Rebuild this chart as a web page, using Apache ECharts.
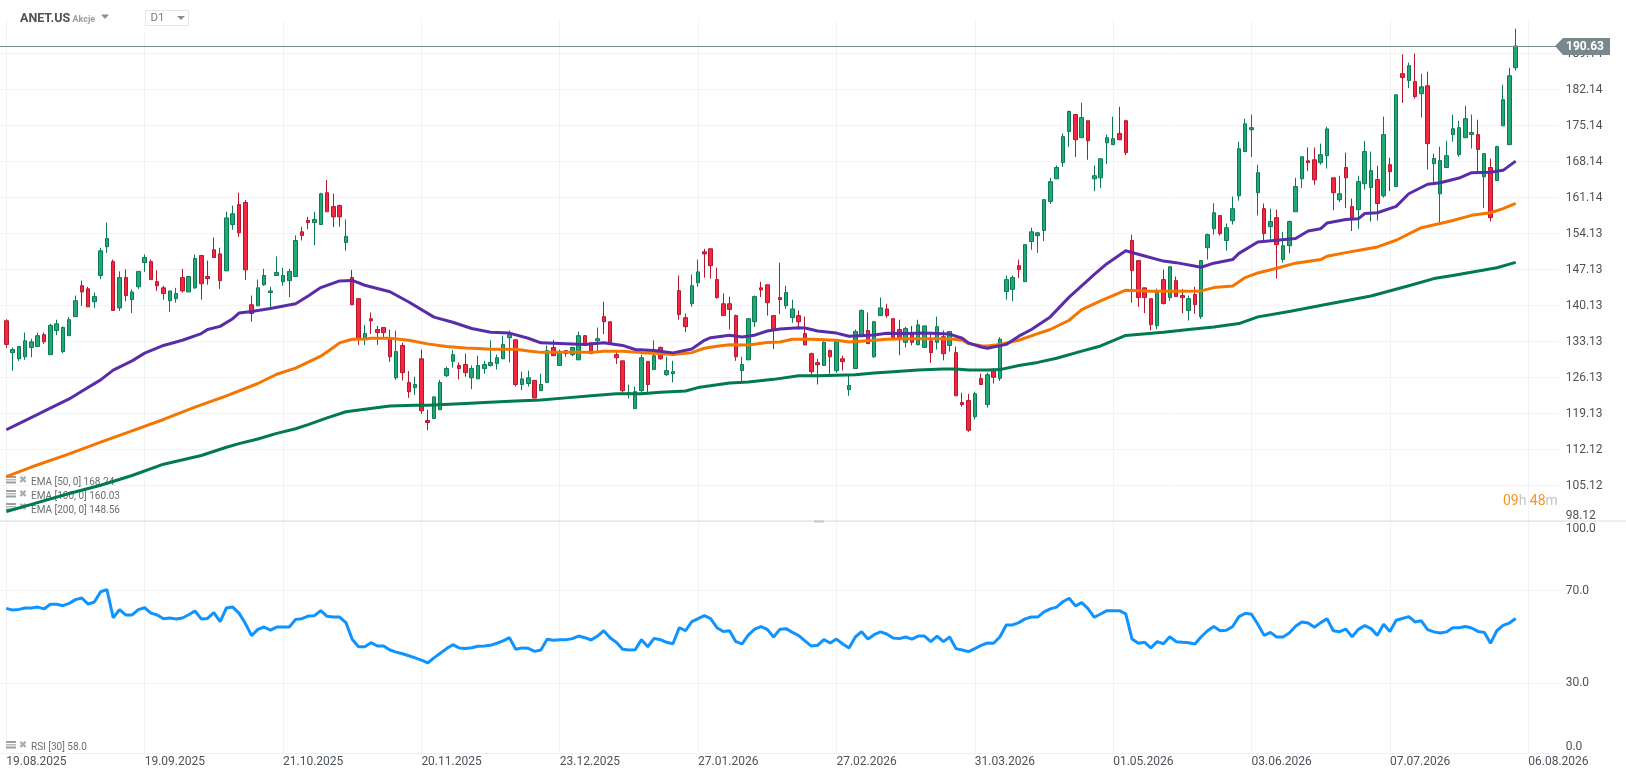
<!DOCTYPE html>
<html><head><meta charset="utf-8">
<style>html,body{margin:0;padding:0;background:#fff}#c{width:1626px;height:779px}</style>
<script src="https://cdn.jsdelivr.net/npm/echarts@6/dist/echarts.min.js"></script>
</head><body><div id="c"></div>
<script>
const xTickLabels = ['19.08.2025','19.09.2025','21.10.2025','20.11.2025','23.12.2025','27.01.2026','27.02.2026','31.03.2026','01.05.2026','03.06.2026','07.07.2026','06.08.2026'];
const priceTickLabels = ['98.12','105.12','112.12','119.13','126.13','133.13','140.13','147.13','154.13','161.14','168.14','175.14','182.14','189.14'];
const rsiTicks = [0,30,70,100];
const lastPrice = 190.63;
const opens = [
137.2,131.0,129.8,130.2,132.0,132.2,134.5,130.6,135.3,131.2,
134.3,138.0,144.0,143.4,140.9,146.0,151.6,148.7,139.7,145.6,
141.3,143.8,148.5,148.7,144.8,143.6,141.1,141.5,145.6,142.8,
143.6,149.9,145.8,151.0,150.2,146.9,155.9,159.8,160.2,140.3,
140.1,144.2,142.7,146.0,144.8,145.0,145.8,154.5,156.7,156.3,
155.9,162.1,159.4,159.6,152.4,145.6,141.5,133.7,137.6,135.5,
135.9,133.7,126.1,132.4,125.2,124.2,129.8,117.8,118.2,119.9,
126.5,129.3,128.5,128.7,126.1,125.9,127.9,128.5,128.9,129.8,
133.9,133.5,124.8,125.0,125.6,123.6,125.2,132.0,128.5,131.4,
130.6,129.6,134.3,132.9,133.3,138.0,137.0,130.6,129.4,123.0,
120.1,123.6,129.3,127.7,132.0,126.7,126.9,143.05,137.8,140.5,
144.6,150.6,151.2,145.2,140.5,140.5,138.2,127.5,129.6,137.0,
143.6,144.2,138.2,141.7,140.1,137.8,138.2,134.7,130.8,129.05,
128.5,131.4,127.5,129.8,123.8,127.9,134.1,135.3,130.2,138.2,
139.5,137.6,135.5,133.0,134.7,132.55,132.0,133.3,133.0,134.1,
132.4,131.0,121.3,121.7,118.55,125.95,120.9,127.4,126.0,142.9,
143.3,147.9,144.8,152.6,153.75,154.75,160.4,164.8,167.95,174.0,
177.3,172.8,176.1,164.8,165.0,171.8,171.45,173.6,176.1,152.8,
148.9,143.6,141.5,136.25,145.2,141.7,145.0,142.1,139.2,142.3,
138.0,151.4,155.1,157.65,152.8,156.65,161.5,170.1,174.35,162.1,
159.0,155.5,157.25,149.1,151.8,158.4,164.8,168.3,168.5,167.95,
169.3,165.0,160.75,167.0,159.4,158.8,163.85,163.1,164.65,161.5,
167.55,163.3,185.25,183.9,183.7,181.35,182.9,167.75,161.9,167.0,
173.4,169.5,172.8,173.4,173.4,165.2,167.0,164.45,175.1,171.45,
186.4];
const closes = [
132.6,131.6,132.2,133.3,133.1,134.3,133.1,136.3,136.6,135.9,
137.4,141.1,142.8,139.9,141.9,150.8,153.2,139.2,145.6,142.1,
142.8,146.8,149.5,145.2,144.0,142.5,143.0,142.5,143.0,145.8,
149.3,144.4,145.4,149.5,145.0,157.2,158.0,154.3,147.1,138.6,
143.6,146.0,143.0,146.6,146.0,146.8,152.8,153.8,156.3,156.9,
161.9,158.4,157.4,157.4,153.6,140.3,133.7,134.7,137.2,134.9,
134.9,130.2,131.2,127.1,123.4,124.8,119.7,117.4,122.4,125.2,
127.9,130.6,127.9,127.1,127.9,128.5,128.7,129.1,130.0,132.6,
134.5,124.8,125.9,126.1,122.2,124.8,131.4,130.4,131.2,130.8,
132.0,134.3,132.4,130.8,133.7,137.0,132.6,130.0,123.6,123.2,
123.4,130.0,124.8,130.4,129.8,127.5,127.3,138.4,136.05,144.0,
146.7,150.2,147.9,141.7,138.2,139.4,130.2,128.7,137.6,141.9,
143.2,140.7,135.3,141.3,142.7,139.5,137.0,132.5,127.3,128.65,
133.0,130.2,133.3,129.25,124.6,135.1,139.2,132.75,137.0,139.7,
138.2,133.7,133.7,135.7,133.0,136.4,136.2,131.0,136.05,130.8,
135.1,122.6,120.9,115.9,123.0,124.8,126.7,126.2,133.6,145.2,
145.6,147.15,152.0,154.5,154.3,160.75,164.25,167.0,173.0,177.9,
172.4,176.7,172.2,165.4,168.7,172.8,172.6,172.4,169.9,146.95,
141.7,141.7,136.45,142.7,140.55,147.7,141.9,141.7,141.5,140.35,
148.9,153.95,158.2,154.15,155.3,159.0,170.65,175.5,174.75,166.0,
154.15,156.5,152.0,151.8,156.5,163.3,169.1,167.95,164.6,169.5,
174.5,162.1,161.9,165.0,157.25,164.25,170.1,166.4,160.0,173.4,
166.2,181.15,184.5,186.8,180.8,182.7,171.65,168.75,168.35,169.3,
174.55,174.75,176.5,173.8,170.5,169.7,157.25,171.05,180.2,184.85,
190.63];
const lows = [
131.9,127.5,129.4,129.6,130.1,132.1,132.7,130.6,134.4,130.9,
134.3,138.0,140.1,139.9,139.7,145.3,150.4,139.2,139.1,141.0,
138.7,143.4,146.7,145.2,143.0,141.3,138.9,140.7,142.7,142.8,
143.4,141.3,144.2,149.5,143.4,146.9,154.9,153.5,145.1,137.0,
140.1,144.0,139.7,146.0,144.0,141.8,145.8,152.8,155.0,151.9,
155.9,158.4,155.4,155.5,150.8,140.3,132.5,132.5,134.6,132.5,
133.9,129.2,125.7,125.6,122.2,122.8,119.1,115.9,118.2,119.9,
126.3,128.1,125.8,126.3,123.9,125.9,126.9,128.3,127.7,129.8,
129.1,124.4,123.7,124.4,122.1,123.6,125.2,130.4,128.5,130.2,
130.3,129.6,132.4,130.8,131.1,134.6,132.6,128.8,123.0,122.1,
120.1,123.0,123.2,127.7,129.6,126.5,125.2,137.4,135.0,139.9,
143.8,145.6,145.4,141.5,138.2,135.5,129.4,125.4,129.6,136.0,
141.8,138.2,131.7,138.5,139.5,136.8,135.5,132.5,126.7,124.8,
128.5,126.9,127.1,127.5,122.6,127.9,134.1,132.75,130.0,138.2,
137.8,133.7,130.5,132.0,132.4,132.4,132.0,129.0,131.6,129.5,
131.2,122.6,120.5,115.6,118.0,124.8,120.3,125.0,125.5,141.3,
141.0,145.5,144.8,151.0,150.4,152.7,159.9,164.8,167.1,171.0,
169.05,172.8,168.5,162.4,163.0,167.7,171.45,172.4,169.4,140.7,
139.9,138.7,135.35,135.55,140.35,141.05,141.9,138.7,137.25,138.55,
137.55,149.1,153.95,153.8,150.8,155.9,160.55,170.1,169.05,157.65,
152.6,153.0,145.4,148.5,150.3,158.4,163.0,166.3,163.65,167.55,
166.8,158.7,160.3,159.1,154.65,155.1,162.7,156.5,156.7,161.15,
162.4,163.3,179.55,182.45,180.4,176.7,166.6,164.05,156.3,167.0,
172.0,169.1,172.8,170.7,165.8,159.1,156.5,164.45,175.1,171.45,
185.85];
const highs = [
137.5,132.0,132.2,134.9,133.7,134.9,134.9,136.6,137.4,136.1,
137.9,142.1,145.0,143.8,142.7,151.4,156.3,149.1,146.8,147.2,
143.3,146.8,150.1,149.1,147.0,144.0,143.0,143.6,147.3,145.8,
150.1,149.9,148.9,153.4,151.4,158.4,159.6,162.1,160.7,142.1,
145.2,147.3,143.8,149.7,147.5,147.3,153.8,155.5,157.4,158.4,
162.1,164.6,161.9,159.8,156.9,147.1,141.5,136.4,138.8,136.2,
135.9,135.5,135.3,132.9,127.4,126.3,131.6,119.9,122.4,125.7,
128.3,131.5,129.1,130.8,128.5,130.4,129.4,133.4,130.6,134.3,
135.3,133.5,127.3,127.5,125.6,126.9,132.4,133.5,131.6,131.4,
132.0,135.1,134.3,132.9,135.9,140.9,137.0,131.1,129.4,124.8,
124.4,130.6,129.3,133.4,132.2,130.2,129.4,146.0,138.6,146.2,
149.1,151.2,151.2,147.5,142.5,141.9,138.4,130.2,137.6,142.1,
144.8,144.2,138.2,148.5,144.0,141.3,139.2,138.0,131.0,129.8,
133.2,131.6,133.3,130.4,126.5,135.5,139.4,138.8,137.2,141.7,
140.5,137.6,137.4,136.05,136.2,137.4,136.2,134.9,138.0,135.3,
135.1,132.2,123.2,123.0,123.4,126.9,127.1,128.0,134.0,146.0,
146.0,149.1,152.0,155.3,154.5,160.75,165.0,167.4,173.6,178.05,
177.3,179.6,176.1,167.4,168.7,173.4,176.9,178.8,176.3,153.95,
148.9,143.6,141.5,143.45,147.15,147.7,145.8,143.4,142.1,143.8,
148.9,154.15,160.05,157.65,156.1,161.35,172.0,176.5,177.3,167.55,
160.0,159.0,158.8,154.5,156.7,165.0,169.1,170.9,170.9,171.65,
174.95,165.0,165.4,169.9,160.95,165.4,172.2,170.1,167.35,176.9,
168.9,181.15,189.0,187.4,189.15,185.25,185.65,169.7,171.05,172.2,
177.3,176.1,179.0,177.3,176.3,169.7,168.75,171.25,183.1,186.4,
194.0];
const ema50Bars = [0,2,5,7,10,12,15,17,20,22,25,28,31,32,34,36,37,39,42,46,48,50,53,55,57,61,64,68,71,74,77,80,83,85,89,92,95,98,100,103,106,109,111,112,115,117,119,121,123,126,127,129,132,134,138,140,143,146,150,152,153,155,156,159,161,163,166,169,172,173,175,178,181,184,186,190,192,195,196,199,202,205,207,209,210,213,215,216,218,221,223,226,228,231,233,236,238,240];
const ema50Values = [116.0,117.2,119.0,120.2,122.0,123.5,125.7,127.6,129.4,130.9,132.4,133.4,134.7,135.5,136.1,137.6,138.7,139.0,139.6,140.5,142.0,143.65,144.95,145.05,144.1,142.85,140.85,137.9,136.9,135.7,134.95,134.8,133.8,132.9,132.75,132.6,132.9,132.4,131.6,131.4,130.95,131.7,133.4,133.9,134.4,134.05,134.4,135.2,135.6,135.85,135.8,135.2,134.8,134.2,134.45,134.75,134.7,134.8,134.6,133.8,132.9,132.1,131.85,132.6,134.2,135.5,137.95,141.8,145.1,146.2,148.3,150.8,149.8,148.8,148.5,147.6,148.4,149.1,150.3,152.5,152.85,153.2,154.65,155.1,156.2,156.9,157.05,158.05,158.2,159.45,161.9,163.75,164.05,164.95,166.0,166.1,166.45,168.24];
const ema100Bars = [0,4,10,15,20,25,30,35,40,43,46,50,52,53,55,57,58,61,64,67,70,73,75,77,81,83,85,89,93,95,98,101,104,106,109,111,113,115,118,121,123,125,128,132,134,137,140,143,146,150,152,153,155,156,158,161,164,166,169,171,174,178,182,186,190,192,195,197,199,202,205,209,210,213,216,218,221,225,228,230,233,236,238,240];
const ema100Values = [106.9,108.75,111.3,113.6,115.8,118.0,120.4,122.6,125.0,126.8,128.0,130.3,132.0,132.9,133.6,133.65,133.8,133.8,133.4,132.7,132.2,131.9,131.8,131.65,131.65,131.3,131.05,131.05,131.05,131.25,131.25,131.0,130.85,130.65,131.0,131.85,132.25,132.55,132.5,132.95,133.05,133.6,133.6,133.4,133.05,133.3,133.6,133.7,133.7,133.7,133.4,132.75,132.35,132.3,132.6,133.4,134.7,135.5,137.3,139.35,141.05,143.15,142.95,142.95,143.0,143.65,143.95,145.6,146.5,147.4,148.4,149.1,149.75,150.45,151.1,151.55,152.85,155.3,156.1,156.7,157.7,158.2,159.0,160.03];
const ema200Bars = [0,4,10,15,20,25,31,35,37,40,43,46,48,51,54,57,61,65,67,73,76,81,85,89,93,97,101,104,108,110,115,118,122,126,129,135,138,141,145,149,151,153,156,158,161,164,167,171,174,178,184,188,192,196,199,204,210,217,223,227,230,237,240];
const ema200Values = [100.1,101.5,103.6,105.2,107.1,109.3,111.0,112.6,113.3,114.2,115.3,116.2,117.0,118.3,119.5,120.0,120.6,120.75,120.75,121.1,121.3,121.6,121.8,122.2,122.6,123.0,123.0,123.3,123.55,124.2,125.1,125.3,125.8,126.5,126.5,126.7,127.05,127.3,127.6,127.8,127.8,127.6,127.6,127.7,128.5,129.1,129.9,131.3,132.3,134.35,134.96,135.5,136.0,136.65,137.95,139.0,140.4,142.0,144.0,145.4,146.0,147.5,148.56];
const rsiValues = [
62.35,61.6,61.9,62.5,62.5,62.9,62.1,64.1,64.1,63.5,
64.5,66.1,66.8,64.2,65.1,69.5,70.4,58.3,61.8,59.5,
59.5,61.8,62.6,60.3,59.5,57.9,58.2,57.8,58.2,59.6,
61.2,57.8,58.0,60.5,56.6,62.5,62.9,60.3,55.9,50.6,
53.3,54.3,53.0,54.3,54.3,54.3,57.6,57.9,59.0,59.2,
61.35,58.9,58.6,58.6,56.2,49.0,45.8,45.8,47.55,46.1,
46.1,44.4,43.5,42.8,41.9,41.0,40.0,38.8,41.0,43.0,
45.0,46.7,45.3,45.0,45.4,46.0,46.1,46.4,47.3,48.3,
49.7,44.7,45.3,45.1,43.8,44.4,49.0,48.6,48.85,48.85,
49.3,50.4,49.7,48.7,50.4,52.7,49.7,47.7,44.7,44.4,
44.5,48.85,45.8,49.4,48.85,47.7,47.1,54.0,52.7,56.6,
57.9,59.2,57.9,54.0,52.4,52.7,48.0,47.0,50.9,53.4,
54.5,53.3,50.0,53.3,53.6,52.0,50.6,48.3,46.1,46.4,
48.85,47.4,49.1,47.0,45.3,50.0,52.3,49.1,51.0,52.2,
51.3,49.6,49.3,50.0,49.1,50.4,50.4,48.0,50.4,48.0,
50.0,45.0,44.4,43.7,45.0,46.4,47.4,47.3,50.1,55.2,
55.2,56.2,57.8,58.6,58.6,60.8,62.1,62.9,65.2,66.7,
63.4,64.8,62.2,58.5,59.9,61.35,61.35,61.35,60.0,49.1,
47.3,47.7,45.3,48.0,47.1,50.1,48.0,47.7,47.55,47.0,
50.1,52.7,54.5,52.7,52.9,54.5,58.8,60.2,59.8,55.5,
50.7,52.0,50.0,50.0,51.7,54.6,56.5,56.0,54.2,56.2,
57.9,52.7,52.3,53.4,50.1,53.3,54.9,53.6,50.7,55.5,
52.4,57.2,58.0,58.8,56.5,57.0,53.2,52.2,51.7,52.2,
54.0,54.0,54.5,53.9,52.4,52.0,47.3,52.7,55.0,56.0,
58.0];
const legendRows = ['EMA [50, 0] 168.24','EMA [100, 0] 160.03','EMA [200, 0] 148.56'];
const rsiLegend = 'RSI [30] 58.0';

const STEP = 22, PAD = 1, CATS = 249;
const cats = Array.from({length: CATS}, (_, k) => {
  const t = (k - PAD) / STEP;
  return (k >= PAD && Number.isInteger(t) && xTickLabels[t]) ? xTickLabels[t] : '';
});
const onTick = (k) => k >= PAD && (k - PAD) % STEP === 0 && (k - PAD) / STEP < xTickLabels.length;
const GRID = '#f2f3f4', LABEL = '#4d5358';
const FONT = 'Roboto';

const candleData = [[0,0,0,0].map(() => '-')].concat(opens.map((o, i) => [o, closes[i], lows[i], highs[i]]));
const linePts = (bars, vals) => bars.map((b, i) => [b + PAD, vals[i]]);
const lineSeries = (name, bars, vals, color) => ({
  name, type: 'line', xAxisIndex: 0, yAxisIndex: 0, data: linePts(bars, vals),
  showSymbol: false, symbol: 'none', smooth: false, silent: true, z: 5,
  lineStyle: {color, width: 3, join: 'round'}
});

function icon(y) {
  return [
    {type:'rect', z:1, shape:{x:6, y:y-4, width:10, height:2}, style:{fill:'#9a9fa3'}},
    {type:'rect', z:1, shape:{x:6, y:y-1, width:10, height:1.5}, style:{fill:'#b5b9bc'}},
    {type:'rect', z:1, shape:{x:6, y:y+1.5, width:10, height:2}, style:{fill:'#9a9fa3'}},
    {type:'text', z:1, style:{text:'✖', x:23, y:y, fill:'#a8acaf', font:'10px "DejaVu Sans"', textAlign:'center', textVerticalAlign:'middle'}}
  ];
}
const legendText = (t, y) => ({type:'text', z:1, style:{text:t, x:31, y, fill:'#6a6f73', font:'10px '+FONT, textVerticalAlign:'middle'}});

const graphics = [
  {type:'rect', z:50, shape:{x:0,y:0,width:1626,height:18}, style:{fill:'#fff'}},
  {type:'rect', z:50, shape:{x:140,y:18,width:55,height:14}, style:{fill:'#fff'}},
  {type:'line', z:51, shape:{x1:0,y1:521,x2:1626,y2:521}, style:{stroke:'#dcdcdc', lineWidth:1}},
  {type:'line', z:51, shape:{x1:2,y1:753.5,x2:1560,y2:753.5}, style:{stroke:'#eeeff0', lineWidth:1}},
  {type:'rect', z:52, shape:{x:814,y:520.5,width:10,height:2}, style:{fill:'#c6c6c6'}},
  {type:'text', z:60, style:{text:'ANET.US', x:20, y:18.5, fill:'#4a5259', font:'bold 12.5px '+FONT, textVerticalAlign:'middle'}},
  {type:'text', z:60, style:{text:'Akcje', x:72.5, y:19.5, fill:'#9a9ea1', font:'bold 9px '+FONT, textVerticalAlign:'middle'}},
  {type:'polygon', z:60, shape:{points:[[101,14.5],[109,14.5],[105,19]]}, style:{fill:'#8c9093'}},
  {type:'rect', z:60, shape:{x:145.5,y:10.5,width:43,height:15}, style:{fill:'#fff', stroke:'#e4e5e6', lineWidth:1}},
  {type:'text', z:61, style:{text:'D1', x:150.5, y:18.5, fill:'#7a7e81', font:'11.5px '+FONT, textVerticalAlign:'middle'}},
  {type:'polygon', z:61, shape:{points:[[177,16],[185,16],[181,20]]}, style:{fill:'#8c9093'}},
  {type:'polygon', z:70, shape:{points:[[1555,46],[1563,38],[1610,38],[1610,55],[1563,55]]}, style:{fill:'#78888d'}},
  {type:'text', z:71, style:{text:lastPrice.toFixed(2), x:1566, y:46.5, fill:'#fff', font:'bold 12px '+FONT, textVerticalAlign:'middle'}},
  {type:'text', z:60, style:{
    x:1503, y:501,
    rich:{o:{fill:'#f7941d', font:'14px '+FONT}, g:{fill:'#c2c4c6', font:'14px '+FONT}},
    text:'{o|09}{g|h} {o|48}{g|m}', textVerticalAlign:'middle'
  }},
  ...icon(480), legendText(legendRows[0], 482),
  ...icon(494), legendText(legendRows[1], 496),
  ...icon(507), legendText(legendRows[2], 510),
  ...icon(745), legendText(rsiLegend, 747)
];

const chart = echarts.init(document.getElementById('c'), null, {renderer:'canvas', width:1626, height:779});
chart.setOption({
  animation: false,
  backgroundColor: '#fff',
  textStyle: {fontFamily: FONT},
  grid: [
    {left: 0.011, right: 66.3, top: 18.7, height: 503, containLabel:false},
    {left: 0.011, right: 66.3, top: 521, height: 232, containLabel:false}
  ],
  xAxis: [
    {type:'category', gridIndex:0, data:cats, boundaryGap:false,
      axisLine:{show:false}, axisTick:{show:false}, axisLabel:{show:false},
      splitLine:{show:true, interval:(k)=>onTick(k), lineStyle:{color:GRID, width:1}}},
    {type:'category', gridIndex:1, data:cats, boundaryGap:false,
      axisLine:{show:false}, axisTick:{show:false},
      axisLabel:{show:true, interval:(k)=>onTick(k), align:'left', color:LABEL, fontSize:12, margin:3, fontFamily:FONT, hideOverlap:false},
      splitLine:{show:true, interval:(k)=>onTick(k), lineStyle:{color:GRID, width:1}}}
  ],
  yAxis: [
    {type:'value', gridIndex:0, position:'right', scale:true, min:98.12, max:195.94, interval:7.0015,
      axisLine:{show:false}, axisTick:{show:false},
      axisLabel:{color:LABEL, fontSize:12, margin:6, fontFamily:FONT, align:'left', verticalAlignMinLabel:'bottom',
        showMaxLabel:false, padding:[4,0,0,0],
        formatter:(v, i)=> priceTickLabels[i] || ''},
      splitLine:{show:true, showMaxLine:false, lineStyle:{color:GRID, width:1}}},
    {type:'value', gridIndex:1, position:'right', min:0, max:100,
      axisLine:{show:false},
      axisTick:{show:false, customValues:rsiTicks},
      axisLabel:{color:LABEL, fontSize:12, margin:6, fontFamily:FONT, align:'left', customValues:rsiTicks,
        verticalAlignMinLabel:'bottom', verticalAlignMaxLabel:'top', padding:[2,0,0,0],
        formatter:(v)=> v.toFixed(1)},
      splitLine:{show:true, lineStyle:{color:GRID, width:1}}}
  ],
  series: [
    {type:'candlestick', name:'ANET.US', xAxisIndex:0, yAxisIndex:0, data:candleData, barWidth:4, z:3, silent:true,
      itemStyle:{color:'#22A873', color0:'#F5263F', borderColor:'#0B7A52', borderColor0:'#B3182E', borderWidth:1},
      markLine:{silent:true, symbol:'none', z:4, label:{show:false},
        lineStyle:{color:'#7d8c90', width:1, type:'solid'}, data:[{yAxis:lastPrice}], animation:false}},
    lineSeries('EMA 200', ema200Bars, ema200Values, '#007A4E'),
    lineSeries('EMA 100', ema100Bars, ema100Values, '#F57500'),
    lineSeries('EMA 50', ema50Bars, ema50Values, '#5A2DA8'),
    {type:'line', name:'RSI', xAxisIndex:1, yAxisIndex:1, data:rsiValues.map((v,i)=>[i+PAD,v]), showSymbol:false, symbol:'none', silent:true,
      lineStyle:{color:'#0F93FF', width:3}, z:5}
  ],
  graphic: graphics
});
</script>
</body></html>
